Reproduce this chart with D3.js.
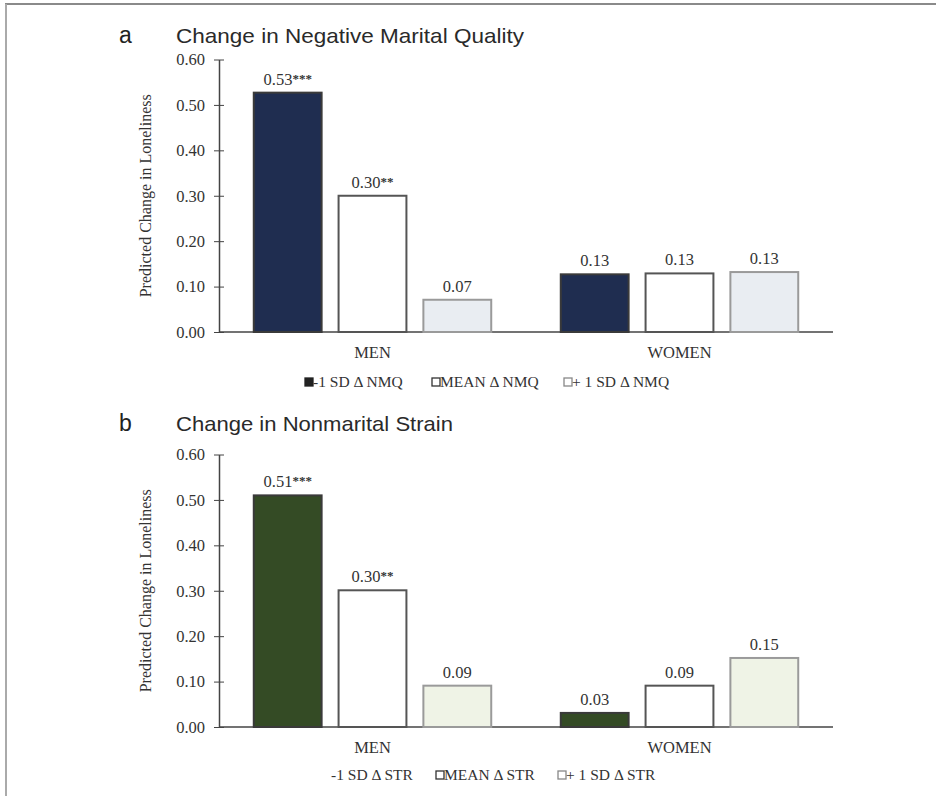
<!DOCTYPE html>
<html><head><meta charset="utf-8">
<script src="https://cdn.jsdelivr.net/npm/d3@7"></script>
<style>body{margin:0;background:#fff}svg{display:block}</style>
</head><body>
<svg id="c" width="936" height="796"></svg>
<script>
const categories = ["MEN", "WOMEN"];
const yTicks = [0, 0.1, 0.2, 0.3, 0.4, 0.5, 0.6];
const seriesA = ["-1 SD Δ NMQ", "MEAN Δ NMQ", "+ 1 SD Δ NMQ"];
const valuesA = [[0.527, 0.300, 0.071], [0.127, 0.129, 0.132]];
const labelsA = [["0.53", "0.30", "0.07"], ["0.13", "0.13", "0.13"]];
const starsA = [["***", "**", ""], ["", "", ""]];
const seriesB = ["-1 SD Δ STR", "MEAN Δ STR", "+ 1 SD Δ STR"];
const valuesB = [[0.510, 0.301, 0.091], [0.031, 0.091, 0.152]];
const labelsB = [["0.51", "0.30", "0.09"], ["0.03", "0.09", "0.15"]];
const starsB = [["***", "**", ""], ["", "", ""]];
const titleA = "Change in Negative Marital Quality";
const titleB = "Change in Nonmarital Strain";
const yLabel = "Predicted Change in Loneliness";

const svg = d3.select("#c");
// frame
svg.append("line").attr("x1",5).attr("x2",936).attr("y1",4).attr("y2",4).attr("stroke","#8a8a8a").attr("stroke-width",2);
svg.append("line").attr("x1",6).attr("x2",6).attr("y1",4).attr("y2",796).attr("stroke","#aaa").attr("stroke-width",2);

const serif = "'Liberation Serif','Times New Roman',serif";
const sans = "'Liberation Sans',Arial,Helvetica,sans-serif";

function panel(cfg){
  const g = svg.append("g");
  const y = d3.scaleLinear().domain([0,0.6]).range([cfg.y0, cfg.y0 - 272.5]);
  const x = d3.scaleBand().domain(categories).range([219, 833]).paddingInner(0).paddingOuter(0);
  const xs = d3.scaleBand().domain(d3.range(3)).range([0, x.bandwidth()]).paddingInner(0.2).paddingOuter(0.41);

  g.append("text").attr("x",119).attr("y",cfg.titleY).attr("font-family",sans).attr("font-size",23).attr("fill","#222").text(cfg.letter);
  g.append("text").attr("x",176).attr("y",cfg.titleY).attr("font-family",sans).attr("font-size",21).attr("fill","#2a2a2a")
    .attr("lengthAdjust","spacingAndGlyphs").attr("textLength", cfg.titleLen).text(cfg.title);

  const ya = g.append("g").attr("transform","translate(219,0)")
    .call(d3.axisLeft(y).tickValues(yTicks).tickFormat(d3.format(".2f")).tickSize(6).tickSizeOuter(0));
  ya.select(".domain").attr("stroke","#444").attr("stroke-width",1.5);
  ya.selectAll(".tick line").attr("stroke","#444").attr("x2",5).attr("x1",-5);
  ya.selectAll(".tick text").attr("font-family",serif).attr("font-size",16.5).attr("fill","#333").attr("x",-14);

  g.append("line").attr("x1",219).attr("x2",833).attr("y1",y(0)).attr("y2",y(0)).attr("stroke","#444").attr("stroke-width",1.5);

  g.append("text").attr("transform",`translate(151,${y(0.3)}) rotate(-90)`).attr("text-anchor","middle")
    .attr("font-family",serif).attr("font-size",16).attr("fill","#333").text(yLabel);

  categories.forEach((c,ci)=>{
    cfg.values[ci].forEach((v,si)=>{
      const bx = x(c)+xs(si);
      g.append("rect").attr("x",bx).attr("y",y(v)).attr("width",xs.bandwidth()).attr("height",y(0)-y(v))
        .attr("fill",cfg.fills[si]).attr("stroke",cfg.strokes[si]).attr("stroke-width",2);
      const t = g.append("text").attr("x",bx+xs.bandwidth()/2).attr("y",y(v)-8).attr("text-anchor","middle")
        .attr("font-family",serif).attr("font-size",16.5).attr("fill","#333");
      t.append("tspan").text(cfg.labels[ci][si]);
      if (cfg.stars[ci][si]) t.append("tspan").attr("font-size",13).attr("dy",-2).attr("font-weight","bold").text(cfg.stars[ci][si]);
    });
    g.append("text").attr("x",x(c)+x.bandwidth()/2).attr("y",y(0)+26).attr("text-anchor","middle")
      .attr("font-family",serif).attr("font-size",16.5).attr("fill","#333").text(c);
  });

  // legend
  const lg = g.append("g");
  cfg.series.forEach((s,si)=>{
    const lx = cfg.legendX[si];
    if (cfg.legendBox[si]) lg.append("rect").attr("x",lx).attr("y",cfg.legendY-9).attr("width",8).attr("height",8)
      .attr("fill",cfg.legendFill[si]).attr("stroke",cfg.legendStroke[si]).attr("stroke-width",1.3);
    lg.append("text").attr("x",lx+(cfg.legendBox[si]?8:0)).attr("y",cfg.legendY).attr("font-family",serif)
      .attr("font-size",15.5).attr("fill","#333").text(s);
  });
}

panel({letter:"a", title:titleA, titleLen:348, titleY:43, y0:332, series:seriesA, values:valuesA, labels:labelsA, stars:starsA,
  fills:["#1f2d50","#ffffff","#e9edf2"], strokes:["#3a3a3a","#555","#9a9a9a"],
  legendX:[305,432,564], legendY:387, legendBox:[true,true,true],
  legendFill:["#222","#fff","#fff"], legendStroke:["#222","#333","#888"]});
panel({letter:"b", title:titleB, titleLen:277, titleY:431, y0:727, series:seriesB, values:valuesB, labels:labelsB, stars:starsB,
  fills:["#344b25","#ffffff","#eff3e6"], strokes:["#3a3a3a","#555","#9a9a9a"],
  legendX:[331,436,558], legendY:780, legendBox:[false,true,true],
  legendFill:["#fff","#fff","#fff"], legendStroke:["#fff","#333","#888"]});
</script>
</body></html>
